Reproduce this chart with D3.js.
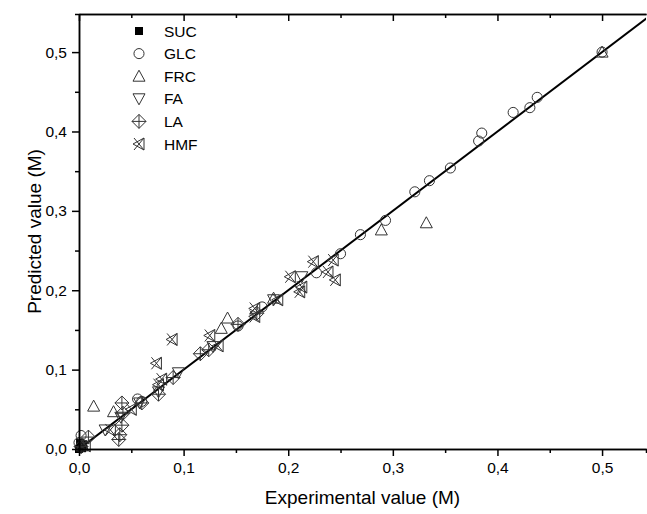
<!DOCTYPE html>
<html>
<head>
<meta charset="utf-8">
<script src="https://cdn.jsdelivr.net/npm/d3@7"></script>
<style>
  body { margin: 0; background: #fff; }
  text { font-family: Arial, "Liberation Sans", sans-serif; fill: #000; }
</style>
</head>
<body>
<svg width="647" height="514"></svg>
<script>
/* global d3 */

// experimental vs predicted, [x, y]
var sucData = [[0.000, 0.000], [0.002, 0.004], [0.003, 0.001], [0.004, 0.006], [0.001, 0.008]];
var glcData = [[0.000, 0.008], [0.002, 0.017], [0.056, 0.063], [0.060, 0.060], [0.152, 0.155],
  [0.175, 0.179], [0.227, 0.222], [0.250, 0.246], [0.269, 0.270], [0.293, 0.288], [0.321, 0.324],
  [0.335, 0.338], [0.355, 0.354], [0.382, 0.388], [0.385, 0.398], [0.415, 0.424], [0.431, 0.430],
  [0.438, 0.443], [0.500, 0.500]];
var frcData = [[0.500, 0.500], [0.332, 0.285], [0.289, 0.276], [0.142, 0.165], [0.136, 0.152],
  [0.014, 0.054], [0.033, 0.047], [0.003, 0.004], [0.186, 0.190]];
var faData = [[0.213, 0.217], [0.186, 0.188], [0.095, 0.096], [0.076, 0.072], [0.025, 0.024],
  [0.040, 0.040], [0.128, 0.129], [0.058, 0.058]];
var laData = [[0.041, 0.058], [0.041, 0.030], [0.039, 0.018], [0.038, 0.012], [0.042, 0.045],
  [0.090, 0.090], [0.116, 0.120], [0.124, 0.125], [0.152, 0.157], [0.170, 0.171], [0.009, 0.015],
  [0.076, 0.069], [0.060, 0.058], [0.002, 0.003]];
var hmfData = [[0.089, 0.138], [0.074, 0.108], [0.079, 0.088], [0.125, 0.143], [0.133, 0.130],
  [0.168, 0.177], [0.168, 0.167], [0.190, 0.188], [0.202, 0.217], [0.211, 0.198], [0.224, 0.236],
  [0.243, 0.238], [0.238, 0.223], [0.245, 0.213], [0.213, 0.204], [0.030, 0.024], [0.050, 0.050],
  [0.076, 0.081], [0.006, 0.004]];

var seriesNames = ["SUC", "GLC", "FRC", "FA", "LA", "HMF"];
var seriesData = [sucData, glcData, frcData, faData, laData, hmfData];
var majorTicks = [0, 0.1, 0.2, 0.3, 0.4, 0.5];
var minorTicks = [0.05, 0.15, 0.25, 0.35, 0.45];
var fitLine = [[0, 0], [0.56, 0.56]];

var svg = d3.select("svg");
var padL = 79, padR = 646, padT = 14, padB = 449;

var x = d3.scaleLinear().domain([0, 0.542]).range([padL, padR]);
var y = d3.scaleLinear().domain([0, 0.548]).range([padB, padT]);

var fmt = function(d) { return d3.format(".1f")(d).replace(".", ","); };

// marker shapes
function marker(name) {
  if (name === "SUC") return "M-4,-4H4V4H-4Z";
  if (name === "GLC") return d3.symbol(d3.symbolCircle, 80)();
  if (name === "FRC") return "M0,-6L6,5H-6Z";
  if (name === "FA") return "M0,6L6,-5H-6Z";
  if (name === "LA") return "M0,-7L7,0L0,7L-7,0ZM0,-7V7M-7,0H7";
  return "M-5,-6L5,6M-5,6L5,-6M-6,0L5,-6V6Z";
}

svg.append("clipPath").attr("id", "clip")
  .append("rect").attr("x", padL).attr("y", padT).attr("width", padR - padL).attr("height", padB - padT);

var plot = svg.append("g").attr("clip-path", "url(#clip)");

plot.append("path")
  .datum(fitLine)
  .attr("d", d3.line().x(d => x(d[0])).y(d => y(d[1])))
  .attr("fill", "none")
  .attr("stroke", "#000")
  .attr("stroke-width", 2);

seriesData.forEach(function(data, i) {
  var name = seriesNames[i];
  svg.append("g")
    .selectAll("path")
    .data(data)
    .enter()
    .append("path")
    .attr("transform", d => "translate(" + x(d[0]) + "," + y(d[1]) + ")")
    .attr("d", marker(name))
    .attr("fill", name === "SUC" ? "#000" : "none")
    .attr("stroke", name === "SUC" ? "none" : "#333")
    .attr("stroke-width", 1);
});

// axes
function styleAxis(g) {
  g.select(".domain").attr("stroke-width", 1.5);
  g.selectAll(".tick line").attr("stroke-width", 1.5);
  g.selectAll(".tick text").attr("font-size", 15.5).attr("font-family", "Arial, 'Liberation Sans', sans-serif");
}

svg.append("g")
  .attr("transform", "translate(0," + padB + ")")
  .call(d3.axisBottom(x).tickValues(minorTicks).tickSize(4).tickFormat(""))
  .call(styleAxis);
svg.append("g")
  .attr("transform", "translate(0," + padB + ")")
  .call(d3.axisBottom(x).tickValues(majorTicks).tickSize(7).tickSizeOuter(0).tickPadding(6).tickFormat(fmt))
  .call(styleAxis);

svg.append("g")
  .attr("transform", "translate(" + padL + ",0)")
  .call(d3.axisLeft(y).tickValues(minorTicks).tickSize(4).tickFormat(""))
  .call(styleAxis);
svg.append("g")
  .attr("transform", "translate(" + padL + ",0)")
  .call(d3.axisLeft(y).tickValues(majorTicks).tickSize(7).tickSizeOuter(0).tickPadding(5).tickFormat(fmt))
  .call(styleAxis);

svg.append("g")
  .attr("transform", "translate(0," + padT + ")")
  .call(d3.axisTop(x).tickValues(minorTicks).tickSize(-4).tickSizeOuter(0).tickFormat(""))
  .call(styleAxis);
svg.append("g")
  .attr("transform", "translate(0," + padT + ")")
  .call(d3.axisTop(x).tickValues(majorTicks).tickSize(-7).tickSizeOuter(0).tickFormat(""))
  .call(styleAxis);

// titles
svg.append("text")
  .attr("x", (padL + padR) / 2)
  .attr("y", 504)
  .attr("text-anchor", "middle")
  .attr("font-size", 19)
  .text("Experimental value (M)");

svg.append("text")
  .attr("transform", "translate(41," + (padB + padT) / 2 + ") rotate(-90)")
  .attr("text-anchor", "middle")
  .attr("font-size", 19)
  .text("Predicted value (M)");

// legend
var legend = svg.append("g").attr("transform", "translate(139, 31)");
legend.selectAll("path")
  .data(seriesNames)
  .enter()
  .append("path")
  .attr("transform", (d, i) => "translate(0," + i * 22.6 + ")")
  .attr("d", d => marker(d))
  .attr("fill", d => d === "SUC" ? "#000" : "none")
  .attr("stroke", d => d === "SUC" ? "none" : "#333");
legend.selectAll("text")
  .data(seriesNames)
  .enter()
  .append("text")
  .attr("x", 25)
  .attr("y", (d, i) => i * 22.6 + 5.5)
  .attr("font-size", 15.5)
  .text(d => d);
</script>
</body>
</html>
